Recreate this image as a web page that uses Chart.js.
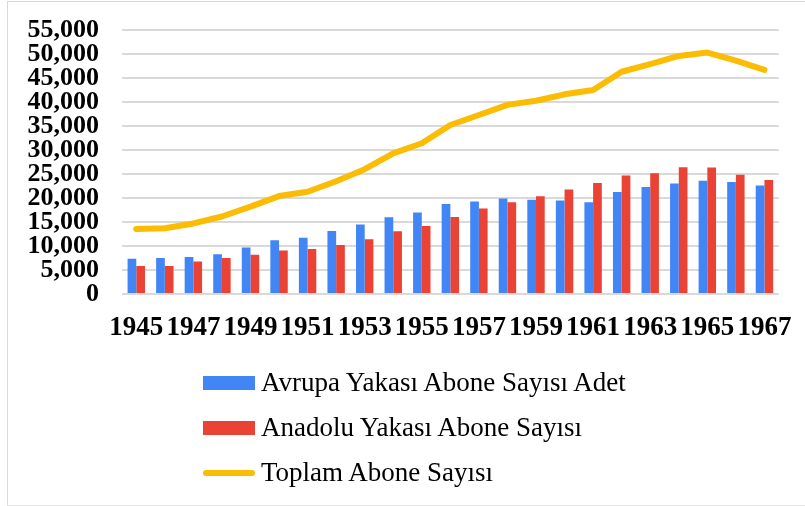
<!DOCTYPE html>
<html>
<head>
<meta charset="utf-8">
<script src="https://cdn.jsdelivr.net/npm/chart.js@4"></script>
<style>
  html, body { margin: 0; padding: 0; background: #fff; }
  #wrap { position: relative; width: 805px; height: 506px; }
  #myChart { display: block; }
  #frame { position: absolute; left: 7px; top: 1px; width: 805px; height: 503px;
           border-left: 1px solid #d9d9d9; border-top: 1px solid #d9d9d9; border-bottom: 1px solid #e6e6e6; }
  #legend { position: absolute; left: 203px; top: 360px; font-family: 'Liberation Serif', serif; font-size: 27px; color: #000; }
  .item { display: flex; align-items: center; height: 45px; }
  .swatch { width: 52px; margin-right: 6px; }
</style>
</head>
<body>
<div id="wrap">
  <div id="frame"></div>
  <canvas id="myChart" width="805" height="506"></canvas>
  <div id="legend"></div>
</div>
<script>
const years = [1945, 1946, 1947, 1948, 1949, 1950, 1951, 1952, 1953, 1954, 1955, 1956,
               1957, 1958, 1959, 1960, 1961, 1962, 1963, 1964, 1965, 1966, 1967];

const avrupa = [7350, 7500, 7700, 8300, 9700, 11200, 11700, 13100, 14500, 16000, 17000, 18750,
                19250, 19900, 19650, 19500, 19100, 21250, 22300, 23000, 23600, 23350, 22600];

const anadolu = [5850, 5850, 6750, 7500, 8200, 9050, 9400, 10200, 11400, 13050, 14150, 16050,
                 17800, 19100, 20350, 21750, 23100, 24700, 25150, 26400, 26350, 24850, 23750];

const toplam = [13550, 13700, 14700, 16150, 18200, 20400, 21300, 23500, 26000, 29300, 31400, 35200,
                37300, 39400, 40250, 41600, 42500, 46300, 47900, 49600, 50300, 48600, 46700];

const yTicks = [0, 5000, 10000, 15000, 20000, 25000, 30000, 35000, 40000, 45000, 50000, 55000];

const seriesNames = ['Avrupa Yakası Abone Sayısı Adet', 'Anadolu Yakası Abone Sayısı', 'Toplam Abone Sayısı'];

const BLUE = '#4285F4';
const RED = '#EA4335';
const YELLOW = '#FBBC04';

const tickFont = { family: "'Liberation Serif', serif", weight: 'bold', size: 26, lineHeight: 1 };

const ctx = document.getElementById('myChart').getContext('2d');
const chart = new Chart(ctx, {
  type: 'bar',
  data: {
    labels: years,
    datasets: [
      {
        type: 'line',
        label: seriesNames[2],
        data: toplam,
        borderColor: YELLOW,
        backgroundColor: YELLOW,
        borderWidth: 6,
        pointRadius: 0,
        borderJoinStyle: 'round',
        borderCapStyle: 'round',
        tension: 0,
        order: 0
      },
      {
        label: seriesNames[0],
        data: avrupa,
        backgroundColor: BLUE,
        barPercentage: 1,
        categoryPercentage: 0.61,
        order: 1
      },
      {
        label: seriesNames[1],
        data: anadolu,
        backgroundColor: RED,
        barPercentage: 1,
        categoryPercentage: 0.61,
        order: 1
      }
    ]
  },
  options: {
    responsive: false,
    animation: false,
    layout: { padding: { left: 8, right: 26, top: 30, bottom: 0 } },
    plugins: {
      legend: { display: false },
      tooltip: { enabled: false }
    },
    scales: {
      x: {
        grid: { display: false },
        border: { display: false },
        ticks: {
          autoSkip: false,
          maxRotation: 0,
          minRotation: 0,
          padding: 13,
          color: '#000',
          font: { ...tickFont, size: 27 },
          callback: (v, i) => (i % 2 === 0 ? String(years[i]) : '')
        },
        afterFit: (scale) => { scale.height = 212; }
      },
      y: {
        min: 0,
        max: 55000,
        afterBuildTicks: (scale) => { scale.ticks = yTicks.map(v => ({ value: v })); },
        grid: { color: '#d9d9d9', lineWidth: 2, drawTicks: false },
        border: { display: false },
        ticks: {
          autoSkip: false,
          padding: 23,
          color: '#000',
          font: tickFont,
          callback: (v) => v.toLocaleString('en-US')
        },
        afterFit: (scale) => {
          scale.width = 114;
          scale.paddingTop = 0;
        }
      }
    }
  }
});

// legend below the plot, one entry per line like the original
const legendBox = document.getElementById('legend');
[1, 2, 0].forEach((idx) => {
  const ds = chart.data.datasets[idx];
  const row = document.createElement('div');
  row.className = 'item';
  const sw = document.createElement('div');
  sw.className = 'swatch';
  if (ds.type === 'line') {
    sw.style.height = '6px';
    sw.style.borderRadius = '3px';
  } else {
    sw.style.height = '14px';
  }
  sw.style.background = ds.backgroundColor;
  const txt = document.createElement('span');
  txt.textContent = ds.label;
  row.appendChild(sw);
  row.appendChild(txt);
  legendBox.appendChild(row);
});
</script>
</body>
</html>
